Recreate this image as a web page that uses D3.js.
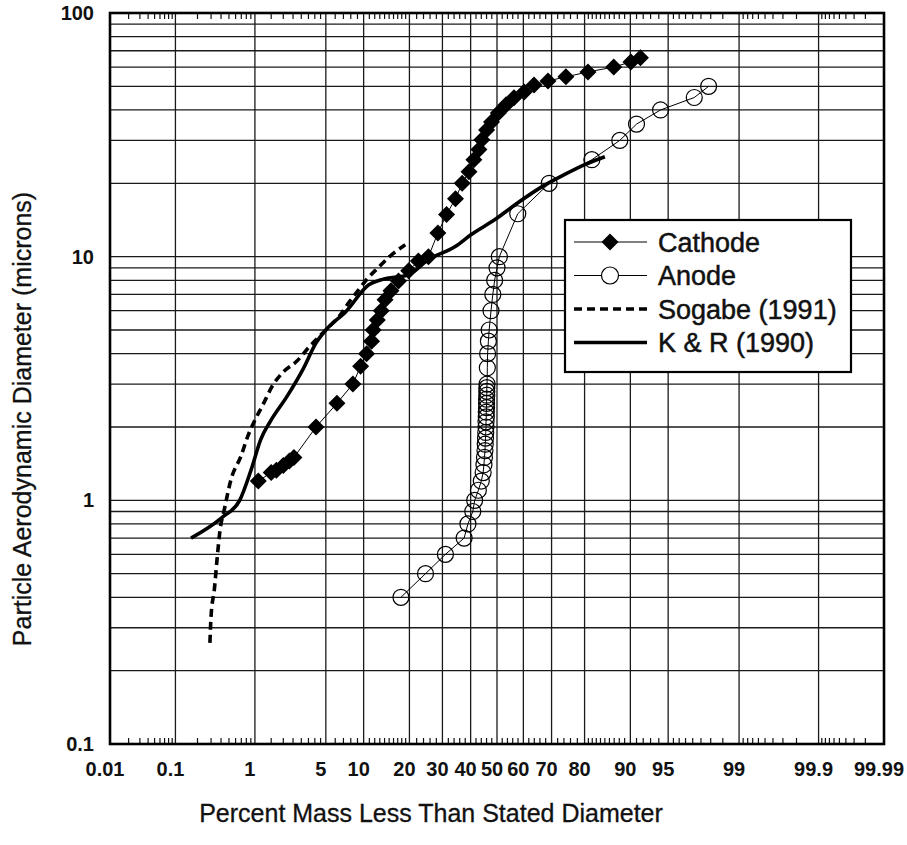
<!DOCTYPE html>
<html>
<head>
<meta charset="utf-8">
<script src="https://cdn.jsdelivr.net/npm/d3@7"></script>
<style>
  body { margin: 0; background: #fff; }
  svg { display: block; }
  text { font-family: "Liberation Sans", Arial, Helvetica, sans-serif; fill: #111; }
</style>
</head>
<body>
<div id="chart"></div>
<script>
// ---- data (percent mass less than stated diameter, diameter in microns) ----
const cathodePct = [1.09, 1.5, 1.7, 2.0, 2.3, 2.55, 4.1, 6.2, 8.3, 9.5, 10.5, 11.4, 11.7, 12.5, 13.3, 14.1,
  15.4, 17.2, 19.8, 22.5, 25.5, 28.5, 31.4, 34.5, 36.9, 39.4, 41.2, 43.1, 44.2, 46, 47.9, 50.5, 53.5, 56.5,
  60.3, 63.9, 68.8, 74.6, 80.9, 86.9, 90.1, 91.6];
const cathodeUm = [1.2, 1.3, 1.33, 1.39, 1.45, 1.5, 2.0, 2.5, 3.0, 3.55, 4.0, 4.5, 5.0, 5.5, 6.0, 6.65,
  7.25, 7.95, 8.75, 9.6, 10, 12.5, 14.9, 17.3, 20, 22.3, 25, 27.5, 30.2, 33.1, 35.7, 38.9, 42, 44.9,
  47.4, 50.7, 52.6, 54.7, 57.3, 60, 63, 65.5];

const anodePct = [17.8, 24.6, 31, 37.6, 39, 40.8, 41.5, 42.9, 44, 44.7, 45, 45.2, 45.4, 45.5, 45.6,
  45.7, 45.8, 45.8, 45.9, 45.9, 46, 46, 46, 46.1, 46.1, 46.1, 46.2, 46.3, 46.4, 46.7, 47, 47.7, 48.4,
  49.1, 50, 50.9, 57.9, 69.2, 81.9, 88.1, 91, 94.2, 97.1, 97.9];
const anodeUm = [0.4, 0.5, 0.6, 0.7, 0.8, 0.9, 1.0, 1.1, 1.2, 1.3, 1.4, 1.5, 1.6, 1.7, 1.8, 1.9, 2.0,
  2.1, 2.2, 2.3, 2.4, 2.5, 2.6, 2.7, 2.8, 2.9, 3.0, 3.5, 4, 4.5, 5, 6, 7, 8, 9, 10, 15, 20, 25, 30,
  35, 40, 45, 50];

const sogabePct = [0.29, 0.30, 0.33, 0.36, 0.39, 0.44, 0.53, 0.69, 0.83, 1.01, 1.2, 1.57, 1.98, 2.71,
  3.57, 4.38, 5.35, 6.45, 7.72, 9.19, 10.8, 12.7, 14.8, 18.9];
const sogabeUm = [0.26, 0.335, 0.43, 0.59, 0.76, 0.92, 1.22, 1.51, 1.83, 2.15, 2.43, 2.98, 3.35, 3.72,
  4.27, 4.7, 5.17, 5.68, 6.48, 7.32, 8.2, 9.02, 9.9, 11.2];

const krPct = [0.164, 0.41, 0.67, 0.91, 1.16, 1.47, 2.18, 3.1, 4.13, 5.04, 7.34, 10.9, 13.4, 19.8,
  25.5, 34.4, 40.1, 49.2, 57.8, 66.2, 74.1, 79.9, 85];
const krUm = [0.70, 0.85, 1.0, 1.34, 1.78, 2.11, 2.67, 3.44, 4.45, 5.02, 5.96, 7.67, 8.05, 8.43,
  9.73, 11.0, 12.3, 14.2, 16.6, 19.2, 21.7, 23.8, 25.7];

const legendNames = ['Cathode', 'Anode', 'Sogabe (1991)', 'K & R (1990)'];

// axis ticks
const xTicks = [0.01, 0.1, 1, 5, 10, 20, 30, 40, 50, 60, 70, 80, 90, 95, 99, 99.9, 99.99];
const xMinor = [
  0.02, 0.03, 0.04, 0.05, 0.06, 0.07, 0.08, 0.09,
  0.2, 0.3, 0.4, 0.5, 0.6, 0.7, 0.8, 0.9,
  1.5, 2, 2.5, 3, 3.5, 4, 4.5,
  6, 7, 8, 9,
  11, 12, 13, 14, 15, 16, 17, 18, 19,
  22, 24, 26, 28, 32, 34, 36, 38, 42, 44, 46, 48, 52, 54, 56, 58, 62, 64, 66, 68, 72, 74, 76, 78,
  81, 82, 83, 84, 85, 86, 87, 88, 89,
  91, 92, 93, 94,
  95.5, 96, 96.5, 97, 97.5, 98, 98.5,
  99.1, 99.2, 99.3, 99.4, 99.5, 99.6, 99.7, 99.8,
  99.91, 99.92, 99.93, 99.94, 99.95, 99.96, 99.97, 99.98];
const yTicks = [0.1, 1, 10, 100];
const yGrid = [0.2, 0.3, 0.4, 0.5, 0.6, 0.7, 0.8, 0.9, 1, 2, 3, 4, 5, 6, 7, 8, 9, 10,
  20, 30, 40, 50, 60, 70, 80, 90];

// inverse normal cdf (Acklam)
function probit(p) {
  const a = [-3.969683028665376e+01, 2.209460984245205e+02, -2.759285104469687e+02, 1.383577518672690e+02, -3.066479806614716e+01, 2.506628277459239e+00];
  const b = [-5.447609879822406e+01, 1.615858368580409e+02, -1.556989798598866e+02, 6.680131188771972e+01, -1.328068155288572e+01];
  const c = [-7.784894002430293e-03, -3.223964580411365e-01, -2.400758277161838e+00, -2.549732539343734e+00, 4.374664141464968e+00, 2.938163982698783e+00];
  const d = [7.784695709041462e-03, 3.224671290700398e-01, 2.445134137142996e+00, 3.754408661907416e+00];
  const pl = 0.02425;
  let q, r;
  if (p < pl) {
    q = Math.sqrt(-2 * Math.log(p));
    return (((((c[0] * q + c[1]) * q + c[2]) * q + c[3]) * q + c[4]) * q + c[5]) / ((((d[0] * q + d[1]) * q + d[2]) * q + d[3]) * q + 1);
  }
  if (p <= 1 - pl) {
    q = p - 0.5; r = q * q;
    return (((((a[0] * r + a[1]) * r + a[2]) * r + a[3]) * r + a[4]) * r + a[5]) * q / (((((b[0] * r + b[1]) * r + b[2]) * r + b[3]) * r + b[4]) * r + 1);
  }
  q = Math.sqrt(-2 * Math.log(1 - p));
  return -(((((c[0] * q + c[1]) * q + c[2]) * q + c[3]) * q + c[4]) * q + c[5]) / ((((d[0] * q + d[1]) * q + d[2]) * q + d[3]) * q + 1);
}

const width = 907;
const height = 845;
const plotL = 110, plotR = 884, plotT = 13, plotB = 744;

const svg = d3.select('#chart')
  .append('svg')
  .attr('width', width)
  .attr('height', height);

// probability scale on x, log scale on y
const zScale = d3.scaleLinear()
  .domain([probit(0.0001), probit(0.9999)])
  .range([plotL, plotR]);
const x = (p) => zScale(probit(p / 100));
const y = d3.scaleLog().domain([0.1, 100]).range([plotB, plotT]);

const zip = (a, b) => a.map((v, i) => [v, b[i]]);
const cathode = zip(cathodePct, cathodeUm);
const anode = zip(anodePct, anodeUm);
const sogabe = zip(sogabePct, sogabeUm);
const kr = zip(krPct, krUm);

// grid
const grid = svg.append('g').attr('stroke', '#1a1a1a').attr('stroke-width', 1.3);
grid.selectAll('.hg')
  .data(yGrid)
  .enter()
  .append('line')
  .attr('x1', plotL)
  .attr('x2', plotR)
  .attr('y1', (d) => y(d))
  .attr('y2', (d) => y(d));
grid.selectAll('.vg')
  .data(xTicks.slice(1, -1))
  .enter()
  .append('line')
  .attr('x1', (d) => x(d))
  .attr('x2', (d) => x(d))
  .attr('y1', plotT)
  .attr('y2', plotB);

// minor ticks top and bottom
const ticks = svg.append('g').attr('stroke', '#111').attr('stroke-width', 1.2);
ticks.selectAll('.tb')
  .data(xMinor)
  .enter()
  .append('line')
  .attr('x1', (d) => x(d))
  .attr('x2', (d) => x(d))
  .attr('y1', plotB)
  .attr('y2', plotB - 6);
ticks.selectAll('.tt')
  .data(xMinor)
  .enter()
  .append('line')
  .attr('x1', (d) => x(d))
  .attr('x2', (d) => x(d))
  .attr('y1', plotT)
  .attr('y2', plotT + 6);

// frame
svg.append('rect')
  .attr('x', plotL)
  .attr('y', plotT)
  .attr('width', plotR - plotL)
  .attr('height', plotB - plotT)
  .attr('fill', 'none')
  .attr('stroke', '#000')
  .attr('stroke-width', 2.6);

// tick labels
svg.selectAll('.xl')
  .data(xTicks)
  .enter()
  .append('text')
  .attr('x', (d) => x(d) - 5)
  .attr('y', 776)
  .attr('text-anchor', 'middle')
  .attr('font-size', 20)
  .attr('font-weight', 'bold')
  .text((d) => d);
svg.selectAll('.yl')
  .data(yTicks)
  .enter()
  .append('text')
  .attr('x', 94)
  .attr('y', (d) => y(d) + 7)
  .attr('text-anchor', 'end')
  .attr('font-size', 20)
  .attr('font-weight', 'bold')
  .text((d) => d);

// axis titles
svg.append('text')
  .attr('x', 431)
  .attr('y', 822)
  .attr('text-anchor', 'middle')
  .attr('font-size', 25)
  .attr('stroke', '#111')
  .attr('stroke-width', 0.3)
  .text('Percent Mass Less Than Stated Diameter');
svg.append('text')
  .attr('transform', 'translate(31,419) rotate(-90)')
  .attr('text-anchor', 'middle')
  .attr('font-size', 25)
  .attr('stroke', '#111')
  .attr('stroke-width', 0.3)
  .text('Particle Aerodynamic Diameter (microns)');

// series
const line = d3.line().x((d) => x(d[0])).y((d) => y(d[1]));
const smooth = d3.line().x((d) => x(d[0])).y((d) => y(d[1])).curve(d3.curveMonotoneX);
const diamond = (r) => `M0,${-r}L${r},0L0,${r}L${-r},0Z`;

svg.append('path')
  .attr('d', smooth(sogabe))
  .attr('fill', 'none')
  .attr('stroke', '#000')
  .attr('stroke-width', 3.6)
  .attr('stroke-dasharray', '8,5');
svg.append('path')
  .attr('d', smooth(kr))
  .attr('fill', 'none')
  .attr('stroke', '#000')
  .attr('stroke-width', 3.6);

svg.append('path')
  .attr('d', line(anode))
  .attr('fill', 'none')
  .attr('stroke', '#000')
  .attr('stroke-width', 1);
svg.selectAll('.anode')
  .data(anode)
  .enter()
  .append('circle')
  .attr('cx', (d) => x(d[0]))
  .attr('cy', (d) => y(d[1]))
  .attr('r', 8)
  .attr('fill', 'none')
  .attr('stroke', '#000')
  .attr('stroke-width', 1.2);

svg.append('path')
  .attr('d', line(cathode))
  .attr('fill', 'none')
  .attr('stroke', '#000')
  .attr('stroke-width', 1);
svg.selectAll('.cathode')
  .data(cathode)
  .enter()
  .append('path')
  .attr('transform', (d) => `translate(${x(d[0])},${y(d[1])})`)
  .attr('d', diamond(8.5))
  .attr('fill', '#000');

// legend
const lg = svg.append('g').attr('transform', 'translate(565,220)');
lg.append('rect')
  .attr('width', 286)
  .attr('height', 152)
  .attr('fill', '#fff')
  .attr('stroke', '#000')
  .attr('stroke-width', 2.2);
const rows = lg.selectAll('.row')
  .data(legendNames)
  .enter()
  .append('g')
  .attr('transform', (d, i) => `translate(0,${22 + i * 33.5})`);
rows.append('line')
  .attr('x1', 9)
  .attr('x2', 82)
  .attr('stroke', '#000')
  .attr('stroke-width', (d, i) => (i < 2 ? 1 : 3.6))
  .attr('stroke-dasharray', (d, i) => (i === 2 ? '8,5' : null));
rows.filter((d, i) => i === 0)
  .append('path')
  .attr('transform', 'translate(45,0)')
  .attr('d', diamond(8.5))
  .attr('fill', '#000');
rows.filter((d, i) => i === 1)
  .append('circle')
  .attr('cx', 45)
  .attr('r', 8.5)
  .attr('fill', '#fff')
  .attr('stroke', '#000')
  .attr('stroke-width', 1.2);
rows.append('text')
  .attr('x', 93)
  .attr('y', 9.5)
  .attr('font-size', 27)
  .attr('stroke', '#111')
  .attr('stroke-width', 0.5)
  .text((d) => d);
</script>
</body>
</html>
